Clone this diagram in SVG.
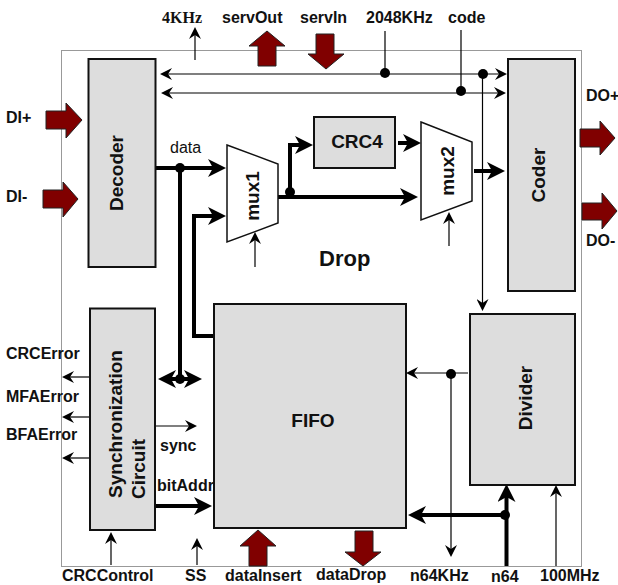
<svg xmlns="http://www.w3.org/2000/svg" width="618" height="585" viewBox="0 0 618 585">
<style>
.b{fill:#ddd;stroke:#111;stroke-width:2}
.m{fill:#fff;stroke:#111;stroke-width:1.5}
.t{font-family:"Liberation Sans",Arial,sans-serif;font-weight:bold;font-size:16px;fill:#111}
.n{font-size:19px}
.c{text-anchor:middle}
.thin{fill:none;stroke:#000;stroke-width:1.2}
.thick{fill:none;stroke:#000;stroke-width:4}
.ah{marker-end:url(#a)}
.ahh{marker-end:url(#A)}
.bi{marker-start:url(#a);marker-end:url(#a)}
.bih{marker-start:url(#A);marker-end:url(#A)}
.dot{fill:#000}
.blk{fill:#800000;stroke:#222;stroke-width:1}
</style>
<defs>
<marker id="a" markerUnits="userSpaceOnUse" markerWidth="12" markerHeight="12" refX="6" refY="6" orient="auto-start-reverse"><path d="M0 0L12 6L0 12L4 6Z"/></marker>
<marker id="A" markerUnits="userSpaceOnUse" markerWidth="18" markerHeight="18" refX="10" refY="9" orient="auto-start-reverse"><path d="M0 0L18 9L0 18L5 9Z"/></marker>
</defs>
<rect x="61.5" y="50.5" width="520" height="516" fill="none" stroke="#333" stroke-width="1" stroke-dasharray="1 1"/>
<g id="connectors">
<path class="thin ah" d="M195 60V33"/>
<path class="thin bi" d="M166 74H501"/>
<path class="thin bi" d="M167 93H500"/>
<path class="thin" d="M385 31V73M461 30V91"/>
<path class="thin ah" d="M482.5 74V305"/>
<path class="thick ahh" d="M155 168H218"/>
<path class="thick" d="M180 168V379"/>
<path class="thick ahh" d="M214 336H194V216H218"/>
<path class="thick bih" d="M166 379H194"/>
<path class="thick ahh" d="M278 197H410"/>
<path class="thick ahh" d="M290 192V145H305"/>
<path class="thick ahh" d="M398 143H413"/>
<path class="thick ahh" d="M474 171H497"/>
<path class="thin ah" d="M255 267V238"/>
<path class="thin ah" d="M449 246V218"/>
<path class="thin ah" d="M89 377H68"/>
<path class="thin ah" d="M89 417H68"/>
<path class="thin ah" d="M89 458H68"/>
<path class="thin ah" d="M155 426H191"/>
<path class="thick ahh" d="M155 506H204"/>
<path class="thin ah" d="M111 565V538"/>
<path class="thin ah" d="M197 565V544"/>
<path class="thin ah" d="M468 373H412"/>
<path class="thin ah" d="M451 374V551"/>
<path class="thick ahh" d="M505 515H416"/>
<path class="thick ahh" d="M506.500 566V492"/>
<path class="thin ah" d="M556 566V491"/>
<circle class="dot" cx="385" cy="73" r="5"/><circle class="dot" cx="483" cy="74" r="5"/><circle class="dot" cx="461" cy="91" r="5"/>
<circle class="dot" cx="180" cy="168" r="5"/><circle class="dot" cx="290" cy="192" r="5"/><circle class="dot" cx="180" cy="379" r="5"/>
<circle class="dot" cx="451" cy="374" r="5"/><circle class="dot" cx="505" cy="515" r="5"/>
</g>
<g id="decoder"><rect class="b" x="88.500" y="59" width="67" height="208"/><text class="t n c" transform="translate(123 173) rotate(-90)">Decoder</text></g>
<g id="coder"><rect class="b" x="508" y="59" width="67" height="232"/><text class="t n c" transform="translate(545 175) rotate(-90)">Coder</text></g>
<g id="crc4"><rect class="b" x="314" y="117" width="81" height="51"/><text class="t n c" x="357" y="148">CRC4</text></g>
<g id="mux1"><polygon class="m" points="227,145 278,164 278,223 227,242"/><text class="t n c" transform="translate(259 196) rotate(-90)">mux1</text></g>
<g id="mux2"><polygon class="m" points="421,122 472,142 472,201 421,220"/><text class="t n c" transform="translate(454 171) rotate(-90)">mux2</text></g>
<g id="sync"><rect class="b" x="90" y="308.500" width="65" height="221.500"/><text class="t n c" transform="translate(122 424) rotate(-90)">Synchronization</text><text class="t n c" transform="translate(145 469) rotate(-90)">Circuit</text></g>
<g id="fifo"><rect class="b" x="214" y="304" width="192" height="224"/><text class="t n c" x="313" y="427">FIFO</text></g>
<g id="divider"><rect class="b" x="470" y="314" width="105" height="171"/><text class="t n c" transform="translate(532 398) rotate(-90)">Divider</text></g>
<g id="blocks">
<polygon class="blk" points="258,66 258,46 249,46 267,31 285,46 276,46 276,66"/>
<polygon class="blk" points="316,34 334,34 334,54 344,54 326,69 308,54 316,54"/>
<polygon class="blk" points="46,111 66,111 66,103 82,120 66,138 66,129 46,129"/>
<polygon class="blk" points="43,190 63,190 63,182 78,199 63,217 63,208 43,208"/>
<polygon class="blk" points="580,129 600,129 600,121 615,138 600,155 600,147 580,147"/>
<polygon class="blk" points="582,203 602,203 602,193 617,211 602,229 602,220 582,220"/>
<polygon class="blk" points="249,566 249,546 240,546 258,530 276,546 267,546 267,566"/>
<polygon class="blk" points="355,531 373,531 373,552 381,552 363,566 345,552 355,552"/>
</g>
<g id="labels">
<text class="t" style="font-family:'Liberation Serif',serif" x="162" y="23">4KHz</text>
<text class="t" x="222" y="23">servOut</text>
<text class="t" x="300" y="23">servIn</text>
<text class="t" x="366" y="23">2048KHz</text>
<text class="t" x="448" y="23">code</text>
<text class="t" x="6" y="123">DI+</text>
<text class="t" x="6" y="202">DI-</text>
<text x="170" y="153" font-family="'Liberation Sans',Arial,sans-serif" font-size="16" fill="#111">data</text>
<text class="t" x="586" y="101">DO+</text>
<text class="t" x="586" y="246">DO-</text>
<text class="t" style="font-size:22px" x="319" y="266">Drop</text>
<text class="t" x="6" y="359">CRCError</text>
<text class="t" x="6" y="402">MFAError</text>
<text class="t" x="6" y="440">BFAError</text>
<text class="t" x="160" y="451">sync</text>
<text class="t" x="157" y="491">bitAddr</text>
<text class="t" x="62" y="581">CRCControl</text>
<text class="t" x="185" y="581">SS</text>
<text class="t" x="225" y="581">dataInsert</text>
<text class="t" x="316" y="580">dataDrop</text>
<text class="t" x="410" y="581">n64KHz</text>
<text class="t" x="491" y="582">n64</text>
<text class="t" x="540" y="581">100MHz</text>
</g>
</svg>
